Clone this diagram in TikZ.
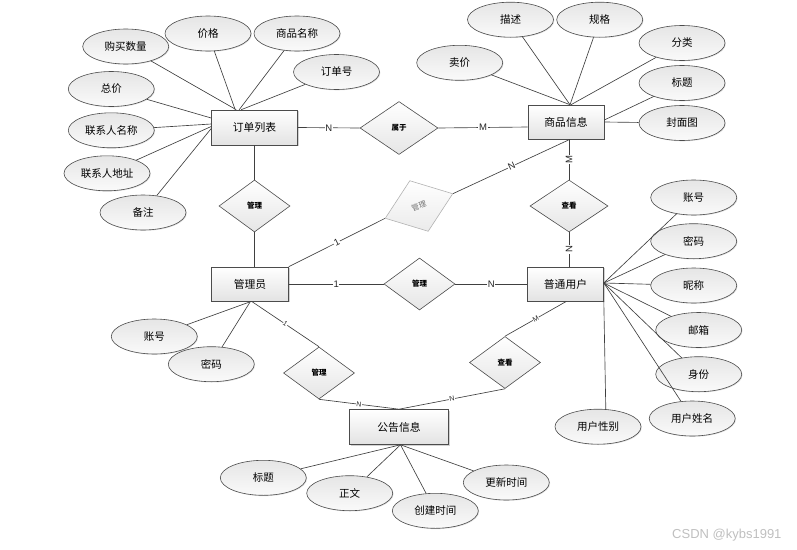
\documentclass[tikz,border=0pt]{standalone}
\usepackage{fontspec}
\setmainfont{Liberation Sans}
\newfontfamily\cjk{Noto Sans CJK SC}
\usetikzlibrary{shapes.geometric,shadows,calc}
\tikzset{
  ent/.style={rectangle, draw=black!70, line width=0.6pt, top color=white, bottom color=black!11,
    minimum height=35pt, inner sep=1pt, font=\cjk\fontsize{10.8}{12}\selectfont,
    drop shadow={shadow xshift=1.2pt, shadow yshift=-1.2pt, fill=black!35}},
  attr/.style={ellipse, draw=black!70, line width=0.6pt, top color=black!10, bottom color=black!2,
    minimum width=86pt, minimum height=35pt, inner sep=0pt, font=\cjk\fontsize{10.5}{12}\selectfont,
    drop shadow={shadow xshift=0.8pt, shadow yshift=-0.8pt, fill=black!25}},
  rel/.style={diamond, draw=black!70, line width=0.6pt, top color=white, bottom color=black!10,
    minimum width=71pt, minimum height=52pt, inner sep=0pt, font=\cjk\bfseries\fontsize{7.5}{9}\selectfont},
  grel/.style={diamond, draw=black!30, line width=0.6pt, top color=white, bottom color=black!8,
    minimum width=72pt, minimum height=54pt, inner sep=0pt, rotate=20, text=black!55,
    font=\cjk\fontsize{7.5}{9}\selectfont},
  conn/.style={draw=black!75, line width=0.65pt},
  lab/.style={fill=white, inner sep=0.6pt, font=\fontsize{9.5}{10}\selectfont, text=black!85},
  slab/.style={fill=white, inner sep=0.4pt, font=\fontsize{7}{8}\selectfont, text=black!85},
}
\begin{document}
\begin{tikzpicture}[x=1pt,y=-1pt]
\useasboundingbox (0,0) rectangle (797,549);
% entities
\node[ent, minimum width=86pt] (dd) at (254.5,127.5) {订单列表};
\node[ent, minimum width=76pt, minimum height=34pt] (sp) at (566,122) {商品信息};
\node[ent, minimum width=77pt, minimum height=34pt] (gly) at (250,284) {管理员};
\node[ent, minimum width=76pt, minimum height=34pt] (pt) at (565.5,284) {普通用户};
\node[ent, minimum width=99pt] (gg) at (399,427) {公告信息};
% relations
\node[rel, minimum width=78pt, minimum height=53pt] (sy) at (399,128) {属于};
\node[rel] (r1) at (254.5,206) {管理};
\node[grel] (r2) at (419,206) {管理};
\node[rel, minimum width=78pt] (r3) at (569,206) {查看};
\node[rel] (r4) at (419.5,284) {管理};
\node[rel] (r5) at (319,373) {管理};
\node[rel] (r6) at (505,362.5) {查看};
% relation connectors
\draw[conn] (dd.east) -- node[lab]{N} (sy.west);
\draw[conn] (sy.east) -- node[lab]{M} ($(sp.west)+(0,5)$);
\draw[conn] (dd.south) -- (r1.north);
\draw[conn] (r1.south) -- (r1.south |- gly.north);
\draw[conn] (r3.north |- sp.south) -- node[lab, rotate=90]{M} (r3.north);
\draw[conn] (r3.south) -- node[lab, rotate=90]{N} (r3.south |- pt.north);
\draw[conn] ($(sp.south)+(4,0)$) -- node[lab, sloped]{N} (r2.east);
\draw[conn] (r2.west) -- node[lab, sloped]{1} (gly.north east);
\draw[conn] (gly.east) -- node[lab]{1} (r4.west);
\draw[conn] (r4.east) -- node[lab]{N} (pt.west);
\draw[conn] ($(gly.south)+(1.5,0)$) -- node[slab, sloped]{1} (r5.north);
\draw[conn] (r5.south) -- node[slab, sloped]{N} (gg.north);
\draw[conn] ($(pt.south)+(1,0)$) -- node[slab, sloped]{M} (r6.north);
\draw[conn] (r6.south) -- node[slab, sloped]{N} (gg.north);
% attributes of 订单列表
\node[attr] (a1) at (125.7,46.5) {购买数量};
\node[attr] (a2) at (208,33.5) {价格};
\node[attr] (a3) at (297,33.5) {商品名称};
\node[attr] (a4) at (336.5,72) {订单号};
\node[attr] (a5) at (111.3,89) {总价};
\node[attr] (a6) at (111.3,130.3) {联系人名称};
\node[attr] (a7) at (107,173.3) {联系人地址};
\node[attr] (a8) at (143,212.5) {备注};
\draw[conn] (a1) -- ($(dd.north west)+(25,0)$);
\draw[conn] (a2) -- ($(dd.north west)+(24,0)$);
\draw[conn] (a3) -- ($(dd.north west)+(28,0)$);
\draw[conn] (a4) -- ($(dd.north west)+(30,0)$);
\draw[conn] (a5) -- ($(dd.north west)+(0,8.3)$);
\draw[conn] (a6) -- ($(dd.west)+(0,-3.5)$);
\draw[conn] (a7) -- ($(dd.west)+(0,-1)$);
\draw[conn] (a8) -- ($(dd.west)+(0,1)$);
% attributes of 商品信息
\node[attr] (b1) at (510.5,19.7) {描述};
\node[attr] (b2) at (599.7,19.7) {规格};
\node[attr] (b3) at (459.7,62.8) {卖价};
\node[attr] (b4) at (682,43) {分类};
\node[attr] (b5) at (682,83) {标题};
\node[attr] (b6) at (682,123) {封面图};
\draw[conn] (b1) -- ($(sp.north)+(4,0)$);
\draw[conn] (b2) -- ($(sp.north)+(4,0)$);
\draw[conn] (b3) -- ($(sp.north)+(4,0)$);
\draw[conn] (b4) -- ($(sp.north)+(5,0)$);
\draw[conn] (b5) -- ($(sp.east)+(0,-2)$);
\draw[conn] (b6) -- (sp.east);
% attributes of 管理员
\node[attr] (c1) at (154.3,336.5) {账号};
\node[attr] (c2) at (211.3,364.2) {密码};
\draw[conn] (c1) -- ($(gly.south)+(1.5,0)$);
\draw[conn] (c2) -- ($(gly.south)+(0.5,0)$);
% attributes of 普通用户
\node[attr] (d1) at (693.7,197.5) {账号};
\node[attr] (d2) at (693.7,241.2) {密码};
\node[attr] (d3) at (693.7,285.5) {昵称};
\node[attr] (d4) at (698.7,330) {邮箱};
\node[attr] (d5) at (698.7,374.2) {身份};
\node[attr] (d6) at (692.2,418.5) {用户姓名};
\node[attr] (d7) at (598,426.7) {用户性别};
\coordinate (pe) at ($(pt.east)+(0,-1)$);
\draw[conn] (d1) -- (pe);
\draw[conn] (d2) -- (pe);
\draw[conn] (d3) -- (pe);
\draw[conn] (d4) -- (pe);
\draw[conn] (d5) -- (pe);
\draw[conn] (d6) -- (pe);
\draw[conn] (pt.south east) -- (d7.66);
% attributes of 公告信息
\node[attr] (e1) at (263.3,477.8) {标题};
\node[attr] (e2) at (349.7,493.2) {正文};
\node[attr] (e3) at (435.3,510.8) {创建时间};
\node[attr] (e4) at (506.3,482.5) {更新时间};
\coordinate (gs) at ($(gg.south)+(1.5,0)$);
\draw[conn] (e1) -- (gs);
\draw[conn] (e2) -- (gs);
\draw[conn] (e3) -- (gs);
\draw[conn] (e4) -- (gs);
% watermark
\node[anchor=west, text=black!25, font=\fontsize{13}{14}\selectfont, inner sep=0pt] (wm) at (672,535) {CSDN @kybs1991};
\end{tikzpicture}
\end{document}
